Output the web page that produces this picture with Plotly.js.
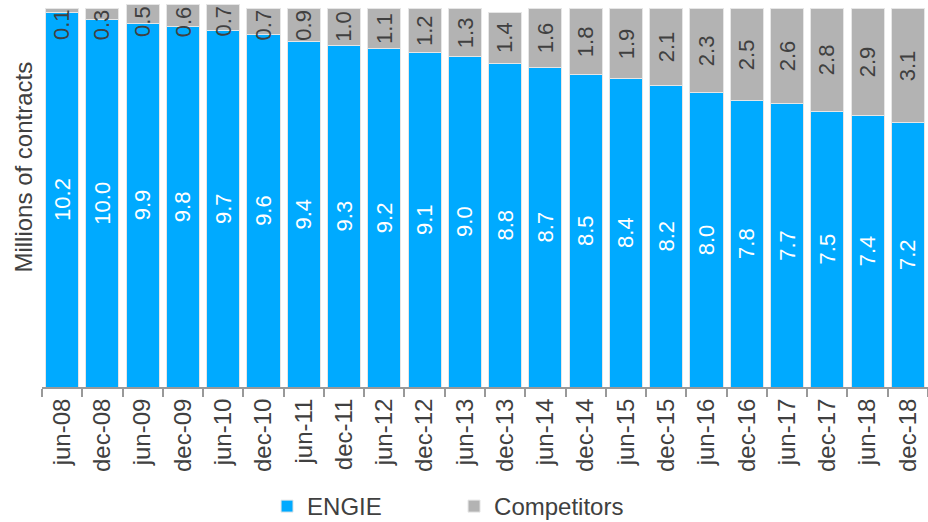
<!DOCTYPE html>
<html>
<head>
<meta charset="utf-8">
<script src="https://cdn.plot.ly/plotly-3.0.1.min.js"></script>
<style>html,body{margin:0;padding:0;background:#fff;}#chart{width:928px;height:522px;}</style>
</head>
<body>
<div id="chart"></div>
<script>
const periods = ["jun-08","dec-08","jun-09","dec-09","jun-10","dec-10","jun-11","dec-11","jun-12","dec-12","jun-13","dec-13","jun-14","dec-14","jun-15","dec-15","jun-16","dec-16","jun-17","dec-17","jun-18","dec-18"];
const engie = [10.2,10.0,9.9,9.8,9.7,9.6,9.4,9.3,9.2,9.1,9.0,8.8,8.7,8.5,8.4,8.2,8.0,7.8,7.7,7.5,7.4,7.2];
const competitors = [0.1,0.3,0.5,0.6,0.7,0.7,0.9,1.0,1.1,1.2,1.3,1.4,1.6,1.8,1.9,2.1,2.3,2.5,2.6,2.8,2.9,3.1];

const FONT = '"Liberation Sans", Arial, sans-serif';
const TXT = '#404040';

const traces = [
  {
    type: 'bar', name: 'ENGIE', x: periods, y: engie,
    marker: {color: '#00AAFF', line: {color: '#e6e6e6', width: 1}},
    text: engie.map(v => v.toFixed(1)), textposition: 'inside', insidetextanchor: 'middle',
    textangle: -90, constraintext: 'none',
    insidetextfont: {family: FONT, size: 22, color: '#ffffff'},
    hoverinfo: 'x+y'
  },
  {
    type: 'bar', name: 'Competitors', x: periods, y: competitors,
    marker: {color: '#B3B3B3', line: {color: '#e6e6e6', width: 1}},
    hoverinfo: 'x+y'
  }
];

const annotations = periods.map((p, i) => ({
  x: p, xref: 'x', yref: 'y',
  y: Math.min(engie[i] + competitors[i] / 2, engie[i] + competitors[i] - 0.45),
  text: competitors[i].toFixed(1), textangle: -90, showarrow: false,
  xanchor: 'center', yanchor: 'middle',
  font: {family: FONT, size: 22, color: TXT}
}));
annotations.push({
  xref: 'paper', yref: 'paper', x: -0.021, y: 0.574,
  text: 'Millions of contracts', textangle: -90, showarrow: false,
  xanchor: 'center', yanchor: 'middle',
  font: {family: FONT, size: 24, color: TXT}
});

const layout = {
  width: 928, height: 522,
  margin: {l: 42, r: 0, t: 4, b: 135, autoexpand: false},
  barmode: 'stack', bargap: 0.18,
  paper_bgcolor: '#ffffff', plot_bgcolor: '#ffffff',
  font: {family: FONT, size: 24, color: TXT},
  xaxis: {
    type: 'category', tickson: 'boundaries', ticks: 'outside', ticklen: 8, tickwidth: 2,
    tickcolor: '#999999', showline: true, linecolor: '#999999', linewidth: 2,
    tickangle: -90, tickfont: {family: FONT, size: 24, color: TXT}, showgrid: false,
    automargin: false
  },
  yaxis: {range: [0, 10.42], showticklabels: false, ticks: '', showgrid: false, zeroline: false, showline: false, automargin: false},
  showlegend: true,
  legend: {
    orientation: 'h', x: 0.254, xanchor: 'left', y: -0.312, yanchor: 'middle',
    entrywidth: 142, font: {family: FONT, size: 24, color: TXT}, traceorder: 'normal'
  },
  annotations: annotations
};

Plotly.newPlot('chart', traces, layout, {displayModeBar: false, staticPlot: true});
</script>
</body>
</html>
